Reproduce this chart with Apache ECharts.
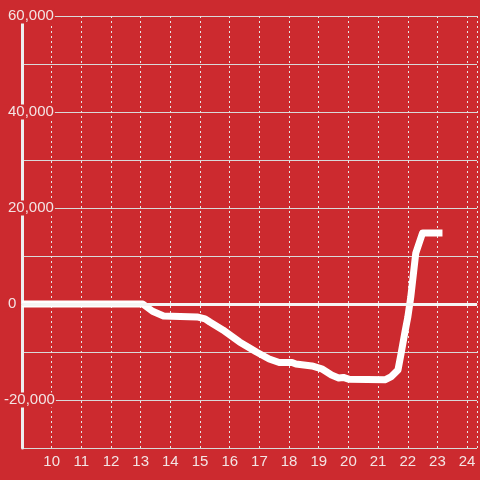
<!DOCTYPE html>
<html><head><meta charset="utf-8">
<script src="https://cdn.jsdelivr.net/npm/echarts@6/dist/echarts.min.js"></script>
<style>html,body{margin:0;padding:0;background:#cc2a2f;}#c{width:480px;height:480px;}</style>
</head><body><div id="c"></div>
<script>
var times = [9, 13.07, 13.4, 13.77, 14.9, 15.17, 15.33, 15.77, 16.33, 16.9, 17.33, 17.67, 18.1, 18.23, 18.77, 19.1, 19.43, 19.67, 19.83, 20.03, 21.23, 21.43, 21.67, 21.77, 21.9, 22.0, 22.1, 22.27, 22.5, 23.17];
var values = [0, 0, -1500, -2500, -2700, -3100, -3750, -5400, -7900, -10000, -11450, -12200, -12200, -12500, -12900, -13500, -14800, -15400, -15300, -15700, -15800, -15200, -13750, -10500, -6000, -2800, 1400, 10600, 14800, 14800];
var yLabeled = [60000, 40000, 20000, 0, -20000];
var xLabeled = [10, 11, 12, 13, 14, 15, 16, 17, 18, 19, 20, 21, 22, 23, 24];

var data = times.map(function (t, i) { return [t, values[i]]; });
var red = '#cc2a2f';
var chart = echarts.init(document.getElementById('c'), null, {renderer: 'canvas'});
chart.setOption({
  backgroundColor: red,
  animation: false,
  grid: {left: 20, right: 0, top: 16, bottom: 32, containLabel: false},
  xAxis: {
    type: 'value', min: 9, max: 24.3333, interval: 1,
    axisLine: {show: true, lineStyle: {color: '#d0d0d0', width: 1}},
    axisTick: {show: false},
    axisLabel: {
      color: '#f3e4e4', fontSize: 15, fontFamily: 'Liberation Sans', margin: 6,
      formatter: function (v) { return xLabeled.indexOf(v) >= 0 ? String(v) : ''; }
    },
    splitLine: {show: true, lineStyle: {color: '#e6e6e6', width: 1, type: [2, 3]}}
  },
  yAxis: {
    type: 'value', min: -30000, max: 60000, interval: 10000,
    axisLine: {show: true, lineStyle: {color: '#eeeeee', width: 3}},
    axisTick: {show: false},
    axisLabel: {
      margin: 19, align: 'left',
      formatter: function (v) {
        if (yLabeled.indexOf(v) < 0) return '';
        return (v < 0 ? '{n|' : '{a|') + v.toLocaleString('en-US') + '}';
      },
      rich: {
        a: {color: '#f3e4e4', fontSize: 15, fontFamily: 'Liberation Sans', backgroundColor: red, lineHeight: 16, padding: [0, 1, 0, 5]},
        n: {color: '#f3e4e4', fontSize: 15, fontFamily: 'Liberation Sans', backgroundColor: red, lineHeight: 16, padding: [0, 1, 0, 1]}
      }
    },
    splitLine: {show: true, lineStyle: {color: '#d9d9d9', width: 1}}
  },
  series: [{
    type: 'line', data: data, symbol: 'none', smooth: false,
    lineStyle: {color: '#ffffff', width: 7, join: 'round', cap: 'butt'},
    markLine: {
      silent: true, symbol: 'none', label: {show: false},
      lineStyle: {color: '#f5f5f5', width: 3, type: 'solid'},
      data: [{yAxis: 0}]
    },
    z: 3
  }]
});
</script></body></html>
